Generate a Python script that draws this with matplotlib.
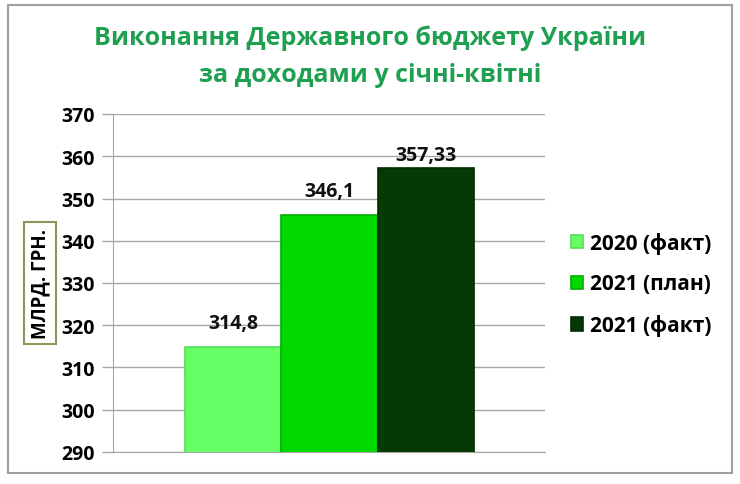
import matplotlib
matplotlib.use("Agg")
import matplotlib.pyplot as plt
from matplotlib.patches import Rectangle

plt.rcParams['font.family'] = ['Open Sans', 'DejaVu Sans']

# data
series = ['2020 (факт)', '2021 (план)', '2021 (факт)']
values = [314.8, 346.1, 357.33]
value_labels = ['314,8', '346,1', '357,33']
colors = ['#66ff66', '#00d800', '#053a05']
edges = ['#55dd55', '#00b000', '#022a02']
yticks = [290, 300, 310, 320, 330, 340, 350, 360, 370]
# gap (points) between bar top and its label, as placed in the original
label_gaps = [10, 10, 1.5]

fig = plt.figure(figsize=(7.4, 4.85), dpi=100)
fig.patch.set_facecolor('white')

# outer frame of the picture
fig.patches.append(Rectangle((8 / 740, 11 / 485), 724 / 740, 468 / 485,
                             transform=fig.transFigure, fill=False,
                             edgecolor='#a0a0a0', linewidth=1.5))

ax = fig.add_axes([113 / 740, 32 / 485, 432 / 740, 338 / 485])

x = list(range(len(values)))
bars = ax.bar(x, values, width=1.0, color=colors, edgecolor=edges,
              linewidth=1.2, zorder=3)

ax.set_ylim(290, 370)
ax.set_xlim(-1.25, 3.24)
ax.set_yticks(yticks)
ax.set_yticklabels([str(t) for t in yticks], fontsize=14, fontweight='bold')
ax.set_xticks([])
ax.yaxis.grid(True, color='#a6a6a6', linewidth=1.0, zorder=0)
ax.tick_params(axis='y', length=8, color='#a6a6a6', width=1.0, pad=5)

for s in ['top', 'right']:
    ax.spines[s].set_visible(False)
ax.spines['left'].set_color('#a6a6a6')
ax.spines['bottom'].set_color('#a6a6a6')

for xi, v, lab, g in zip(x, values, value_labels, label_gaps):
    ax.annotate(lab, (xi, v), xytext=(0, g), textcoords='offset points',
                ha='center', va='bottom', fontsize=14, fontweight='bold',
                color='#111111', zorder=4)

# y label in a box
fig.text(40 / 740, 1 - 284 / 485, 'МЛРД. ГРН.', rotation=90, ha='center',
         va='center', fontsize=13.5, fontweight='bold',
         bbox=dict(boxstyle='square,pad=0.3', facecolor='white',
                   edgecolor='#8a9a5b', linewidth=1.5))

# title
fig.text(370 / 740, 1 - 38 / 485, 'Виконання Державного бюджету України',
         ha='center', va='center', fontsize=18, fontweight='bold', color='#1fa050')
fig.text(370 / 740, 1 - 75 / 485, 'за доходами у січні-квітні',
         ha='center', va='center', fontsize=18, fontweight='bold', color='#1fa050')

leg = fig.legend(handles=list(bars), labels=series, loc='center left',
                 bbox_to_anchor=(552 / 740, 1 - 285 / 485), frameon=False,
                 prop={'size': 15, 'weight': 'bold'}, handlelength=0.6,
                 handleheight=0.6, handletextpad=0.3, labelspacing=0.95)

fig.savefig('out.png', dpi=100, facecolor='white')
